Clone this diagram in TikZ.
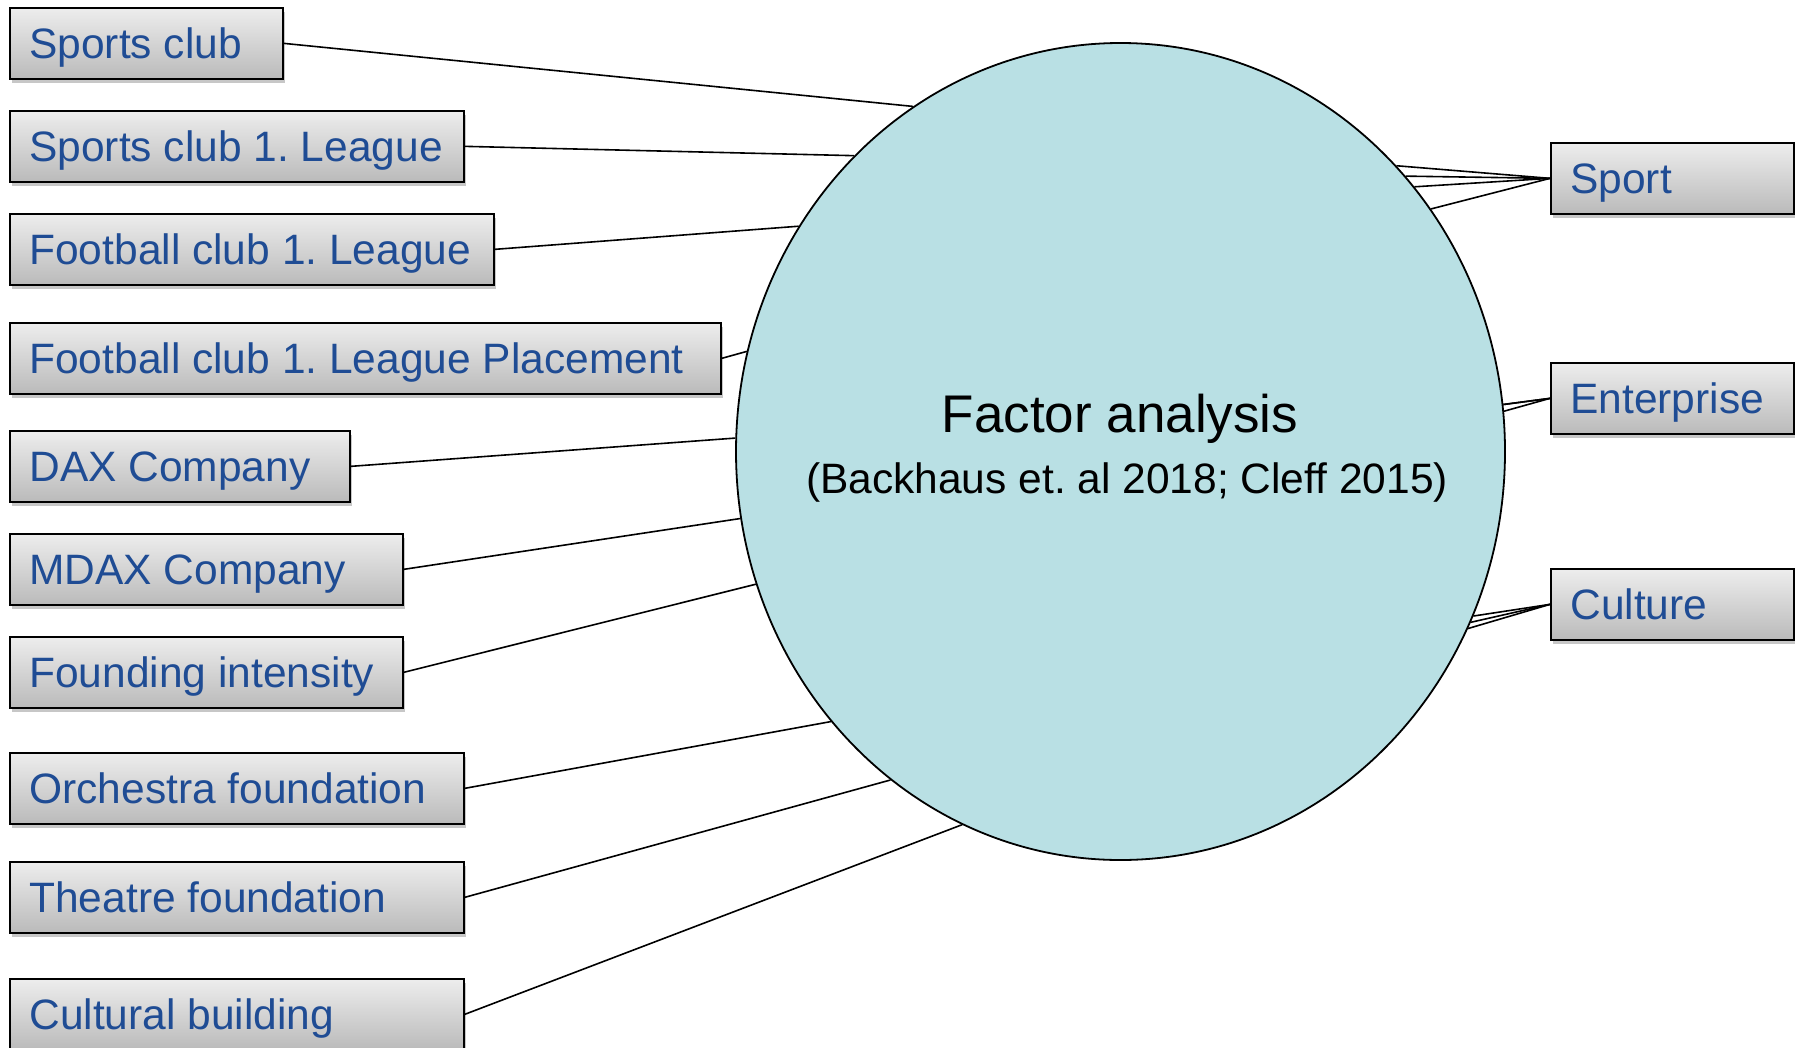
\documentclass[tikz,border=0pt]{standalone}
\usepackage{fontspec}
\setmainfont{Liberation Sans}
\usetikzlibrary{shapes.geometric,shadows}
\definecolor{txtblue}{RGB}{31,76,148}
\definecolor{circfill}{RGB}{185,224,228}
\newcommand\boxtxt[2]{\makebox[#1][l]{#2}}
\frenchspacing
\begin{document}
\begin{tikzpicture}[x=1pt,y=-1pt,
  box/.style={draw=black, line width=1.7pt, top color=black!7, bottom color=black!27,
    anchor=north west, minimum height=71pt, inner xsep=19.5pt, inner ysep=0pt,
    text height=30pt, text depth=0pt, font=\fontsize{42.5}{48}\selectfont, text=txtblue,
    drop shadow={shadow xshift=2pt, shadow yshift=-4pt, fill=black, opacity=0.22}},
  conn/.style={line width=1.6pt, draw=black},
  bigtxt/.style={font=\fontsize{53}{60}\selectfont, anchor=base, text=black},
  subtxt/.style={font=\fontsize{42.5}{48}\selectfont, anchor=base, text=black}]
\useasboundingbox (0,0) rectangle (1795,1047);

% central ellipse
\node[ellipse, draw=black, line width=1.8pt, fill=circfill, minimum width=769pt,
      minimum height=817pt, inner sep=0pt] (E) at (1120.5,451.5) {};
\node[bigtxt] (t1) at (1120,432) {Factor analysis};
\node[subtxt] (t2) at (1127,493) {(Backhaus et. al 2018; Cleff 2015)};

% left boxes
\node[box] (b1)  at (9,7)   {\boxtxt{234pt}{Sports club}};
\node[box] (b2)  at (9,110) {\boxtxt{415pt}{Sports club 1. League}};
\node[box] (b3)  at (9,213) {\boxtxt{445pt}{Football club 1. League}};
\node[box] (b4)  at (9,322) {\boxtxt{672pt}{Football club 1. League Placement}};
\node[box] (b5)  at (9,430) {\boxtxt{301pt}{DAX Company}};
\node[box] (b6)  at (9,533) {\boxtxt{354pt}{MDAX Company}};
\node[box] (b7)  at (9,636) {\boxtxt{354pt}{Founding intensity}};
\node[box] (b8)  at (9,752) {\boxtxt{415pt}{Orchestra foundation}};
\node[box] (b9)  at (9,861) {\boxtxt{415pt}{Theatre foundation}};
\node[box] (b10) at (9,978) {\boxtxt{415pt}{Cultural building}};

% right boxes
\node[box] (sport) at (1550,142) {\boxtxt{204pt}{Sport}};
\node[box] (ent)   at (1550,362) {\boxtxt{204pt}{Enterprise}};
\node[box] (cult)  at (1550,568) {\boxtxt{204pt}{Culture}};

% left connectors
\draw[conn] (b1.east)  -- (E.121.8);
\draw[conn] (b2.east)  -- (E.132.2);
\draw[conn] (b3.east)  -- (E.145.2);
\draw[conn] (b4.east)  -- (E.165.0);
\draw[conn] (b5.east)  -- (E.178.9);
\draw[conn] (b6.east)  -- (E.190.1);
\draw[conn] (b7.east)  -- (E.200.5);
\draw[conn] (b8.east)  -- (E.223.5);
\draw[conn] (b9.east)  -- (E.235.4);
\draw[conn] (b10.east) -- (E.247.1);

% right connectors
\foreach \a in {46.9,44.7,42.0,38.8} \draw[conn] (sport.west) -- (E.\a);
\foreach \a in {7.7,7.2,6.6} \draw[conn] (ent.west) -- (E.\a);
\foreach \a in {-25.0,-26.3,-27.9} \draw[conn] (cult.west) -- (E.\a);
\end{tikzpicture}
\end{document}
